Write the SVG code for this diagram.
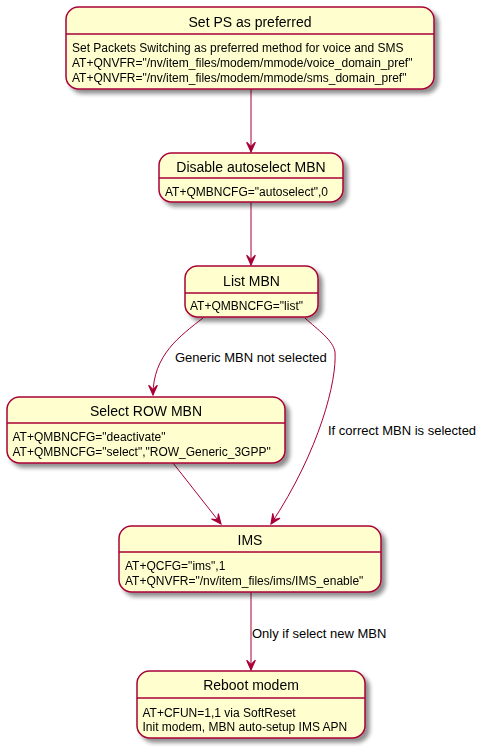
<svg xmlns="http://www.w3.org/2000/svg" width="485" height="751" viewBox="0 0 485 751">
<defs>
<filter id="sh" x="-10%" y="-10%" width="130%" height="150%">
<feGaussianBlur in="SourceAlpha" stdDeviation="2" result="b"/>
<feOffset in="b" dx="4" dy="4" result="o"/>
<feComponentTransfer in="o" result="s"><feFuncA type="linear" slope="0.45"/></feComponentTransfer>
<feMerge><feMergeNode in="s"/><feMergeNode in="SourceGraphic"/></feMerge>
</filter>
<marker id="ah" markerUnits="userSpaceOnUse" markerWidth="12" markerHeight="12" viewBox="-10 -5 11 10" refX="0" refY="0" orient="auto">
<path d="M0,0 L-9,-4 L-5,0 L-9,4 Z" fill="#A80036" stroke="#A80036" stroke-width="1"/>
</marker>
</defs>
<style>
.box{fill:#FEFECE;stroke:#A80036;stroke-width:1.5;}
.sep{stroke:#A80036;stroke-width:1.5;}
.t{font-family:"Liberation Sans",Arial,sans-serif;font-size:14px;fill:#000;text-anchor:middle;}
.b{font-family:"Liberation Sans",Arial,sans-serif;font-size:12px;fill:#000;}
.l{font-family:"Liberation Sans",Arial,sans-serif;font-size:13px;fill:#000;}
.c{fill:none;stroke:#A80036;stroke-width:1;}
</style>

<g id="connectors">
<path class="c" d="M251,89 L251,152" marker-end="url(#ah)"/>
<path class="c" d="M251,202 L251,265" marker-end="url(#ah)"/>
<path class="c" d="M203,318 C180,336 153,355 153,395" marker-end="url(#ah)"/>
<text class="l" x="175" y="362">Generic MBN not selected</text>
<path class="c" d="M305,318 C318,330 333,340 335,352 C337,380 320,450 271,524" marker-end="url(#ah)"/>
<text class="l" x="328" y="435">If correct MBN is selected</text>
<path class="c" d="M173,463 L221,524" marker-end="url(#ah)"/>
<path class="c" d="M251,592 L251,670" marker-end="url(#ah)"/>
<text class="l" x="252" y="637.5">Only if select new MBN</text>
</g>

<g id="set-ps" filter="url(#sh)">
<rect class="box" x="66" y="7" width="368" height="82" rx="12.5" ry="12.5"/>
<line class="sep" x1="66" y1="34" x2="434" y2="34"/>
<text class="t" x="250" y="27">Set PS as preferred</text>
<text class="b" x="72" y="52">Set Packets Switching as preferred method for voice and SMS</text>
<text class="b" x="72" y="67">AT+QNVFR="/nv/item_files/modem/mmode/voice_domain_pref"</text>
<text class="b" x="72" y="82">AT+QNVFR="/nv/item_files/modem/mmode/sms_domain_pref"</text>
</g>

<g id="disable-autoselect" filter="url(#sh)">
<rect class="box" x="159" y="153" width="184" height="49" rx="12.5" ry="12.5"/>
<line class="sep" x1="159" y1="178" x2="343" y2="178"/>
<text class="t" x="251" y="172">Disable autoselect MBN</text>
<text class="b" x="165" y="195.5">AT+QMBNCFG="autoselect",0</text>
</g>

<g id="list-mbn" filter="url(#sh)">
<rect class="box" x="185" y="266" width="133" height="51" rx="12.5" ry="12.5"/>
<line class="sep" x1="185" y1="293" x2="318" y2="293"/>
<text class="t" x="251.5" y="285.5">List MBN</text>
<text class="b" x="190" y="310">AT+QMBNCFG="list"</text>
</g>

<g id="select-row" filter="url(#sh)">
<rect class="box" x="7" y="397" width="278" height="66" rx="12.5" ry="12.5"/>
<line class="sep" x1="7" y1="423" x2="285" y2="423"/>
<text class="t" x="146" y="416">Select ROW MBN</text>
<text class="b" x="12.5" y="441">AT+QMBNCFG="deactivate"</text>
<text class="b" x="12.5" y="456">AT+QMBNCFG="select","ROW_Generic_3GPP"</text>
</g>

<g id="ims" filter="url(#sh)">
<rect class="box" x="119" y="526" width="262" height="66" rx="12.5" ry="12.5"/>
<line class="sep" x1="119" y1="552" x2="381" y2="552"/>
<text class="t" x="250" y="545">IMS</text>
<text class="b" x="125" y="570">AT+QCFG="ims",1</text>
<text class="b" x="125" y="584.5">AT+QNVFR="/nv/item_files/ims/IMS_enable"</text>
</g>

<g id="reboot" filter="url(#sh)">
<rect class="box" x="137" y="671" width="228" height="67" rx="12.5" ry="12.5"/>
<line class="sep" x1="137" y1="698" x2="365" y2="698"/>
<text class="t" x="251" y="690">Reboot modem</text>
<text class="b" x="142.5" y="716.5">AT+CFUN=1,1 via SoftReset</text>
<text class="b" x="142.5" y="731">Init modem, MBN auto-setup IMS APN</text>
</g>
</svg>
